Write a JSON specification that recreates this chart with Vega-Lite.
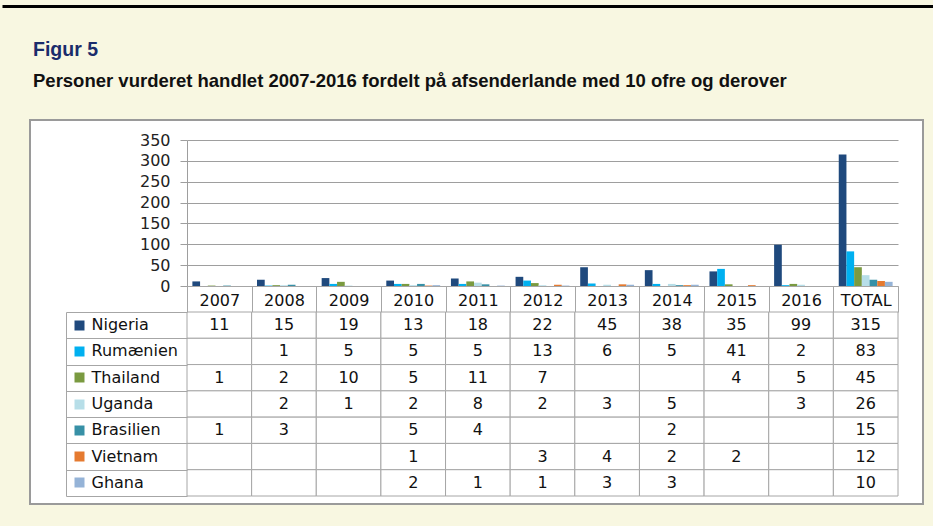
{
  "$schema": "https://vega.github.io/schema/vega-lite/v6.json",
  "width": 893,
  "height": 384,
  "autosize": {"type": "none"},
  "padding": {"left": 30, "top": 120, "right": 10, "bottom": 22},
  "background": "#F8F7E1",
  "config": {"view": {"fill": "white", "stroke": "#9A9A9A", "strokeWidth": 2}},
  "title": {
    "text": "Figur 5",
    "subtitle": "Personer vurderet handlet 2007-2016 fordelt på afsenderlande med 10 ofre og derover",
    "anchor": "start",
    "frame": "group",
    "orient": "top",
    "offset": -85.5,
    "dx": 3,
    "font": "Liberation Sans",
    "fontSize": 19.5,
    "fontWeight": "bold",
    "color": "#1B2C6B",
    "subtitleFont": "Liberation Sans",
    "subtitleFontSize": 18.5,
    "subtitleFontWeight": "bold",
    "subtitleColor": "#111111",
    "subtitlePadding": 12
  },
  "data": {
    "values": [
      {"year": "2007", "country": "Nigeria", "n": 11},
      {"year": "2008", "country": "Nigeria", "n": 15},
      {"year": "2009", "country": "Nigeria", "n": 19},
      {"year": "2010", "country": "Nigeria", "n": 13},
      {"year": "2011", "country": "Nigeria", "n": 18},
      {"year": "2012", "country": "Nigeria", "n": 22},
      {"year": "2013", "country": "Nigeria", "n": 45},
      {"year": "2014", "country": "Nigeria", "n": 38},
      {"year": "2015", "country": "Nigeria", "n": 35},
      {"year": "2016", "country": "Nigeria", "n": 99},
      {"year": "TOTAL", "country": "Nigeria", "n": 315},
      {"year": "2007", "country": "Rumænien", "n": null},
      {"year": "2008", "country": "Rumænien", "n": 1},
      {"year": "2009", "country": "Rumænien", "n": 5},
      {"year": "2010", "country": "Rumænien", "n": 5},
      {"year": "2011", "country": "Rumænien", "n": 5},
      {"year": "2012", "country": "Rumænien", "n": 13},
      {"year": "2013", "country": "Rumænien", "n": 6},
      {"year": "2014", "country": "Rumænien", "n": 5},
      {"year": "2015", "country": "Rumænien", "n": 41},
      {"year": "2016", "country": "Rumænien", "n": 2},
      {"year": "TOTAL", "country": "Rumænien", "n": 83},
      {"year": "2007", "country": "Thailand", "n": 1},
      {"year": "2008", "country": "Thailand", "n": 2},
      {"year": "2009", "country": "Thailand", "n": 10},
      {"year": "2010", "country": "Thailand", "n": 5},
      {"year": "2011", "country": "Thailand", "n": 11},
      {"year": "2012", "country": "Thailand", "n": 7},
      {"year": "2013", "country": "Thailand", "n": null},
      {"year": "2014", "country": "Thailand", "n": null},
      {"year": "2015", "country": "Thailand", "n": 4},
      {"year": "2016", "country": "Thailand", "n": 5},
      {"year": "TOTAL", "country": "Thailand", "n": 45},
      {"year": "2007", "country": "Uganda", "n": null},
      {"year": "2008", "country": "Uganda", "n": 2},
      {"year": "2009", "country": "Uganda", "n": 1},
      {"year": "2010", "country": "Uganda", "n": 2},
      {"year": "2011", "country": "Uganda", "n": 8},
      {"year": "2012", "country": "Uganda", "n": 2},
      {"year": "2013", "country": "Uganda", "n": 3},
      {"year": "2014", "country": "Uganda", "n": 5},
      {"year": "2015", "country": "Uganda", "n": null},
      {"year": "2016", "country": "Uganda", "n": 3},
      {"year": "TOTAL", "country": "Uganda", "n": 26},
      {"year": "2007", "country": "Brasilien", "n": 1},
      {"year": "2008", "country": "Brasilien", "n": 3},
      {"year": "2009", "country": "Brasilien", "n": null},
      {"year": "2010", "country": "Brasilien", "n": 5},
      {"year": "2011", "country": "Brasilien", "n": 4},
      {"year": "2012", "country": "Brasilien", "n": null},
      {"year": "2013", "country": "Brasilien", "n": null},
      {"year": "2014", "country": "Brasilien", "n": 2},
      {"year": "2015", "country": "Brasilien", "n": null},
      {"year": "2016", "country": "Brasilien", "n": null},
      {"year": "TOTAL", "country": "Brasilien", "n": 15},
      {"year": "2007", "country": "Vietnam", "n": null},
      {"year": "2008", "country": "Vietnam", "n": null},
      {"year": "2009", "country": "Vietnam", "n": null},
      {"year": "2010", "country": "Vietnam", "n": 1},
      {"year": "2011", "country": "Vietnam", "n": null},
      {"year": "2012", "country": "Vietnam", "n": 3},
      {"year": "2013", "country": "Vietnam", "n": 4},
      {"year": "2014", "country": "Vietnam", "n": 2},
      {"year": "2015", "country": "Vietnam", "n": 2},
      {"year": "2016", "country": "Vietnam", "n": null},
      {"year": "TOTAL", "country": "Vietnam", "n": 12},
      {"year": "2007", "country": "Ghana", "n": null},
      {"year": "2008", "country": "Ghana", "n": null},
      {"year": "2009", "country": "Ghana", "n": null},
      {"year": "2010", "country": "Ghana", "n": 2},
      {"year": "2011", "country": "Ghana", "n": 1},
      {"year": "2012", "country": "Ghana", "n": 1},
      {"year": "2013", "country": "Ghana", "n": 3},
      {"year": "2014", "country": "Ghana", "n": 3},
      {"year": "2015", "country": "Ghana", "n": null},
      {"year": "2016", "country": "Ghana", "n": null},
      {"year": "TOTAL", "country": "Ghana", "n": 10}
    ]
  },
  "resolve": {"scale": {"x": "independent", "y": "independent"}},
  "layer": [
    {
      "mark": {"type": "text", "text": "", "opacity": 0},
      "encoding": {
        "x": {
          "field": "year", "type": "nominal",
          "scale": {"domain": ["2007","2008","2009","2010","2011","2012","2013","2014","2015","2016","TOTAL"], "range": [-28, 903], "paddingInner": 0, "paddingOuter": 0},
          "axis": {"orient": "top", "offset": 114, "domain": true, "domainColor": "#000000", "domainWidth": 3, "ticks": false, "labels": false, "grid": false, "title": null}
        }
      }
    },
    {
      "mark": {"type": "rect", "fill": "white", "stroke": "#A6A6A6", "strokeWidth": 1},
      "encoding": {
        "x": {
          "field": "year", "type": "nominal",
          "scale": {"domain": ["2007","2008","2009","2010","2011","2012","2013","2014","2015","2016","TOTAL"], "range": [157, 868], "paddingInner": 0, "paddingOuter": 0},
          "axis": null
        },
        "y": {
          "field": "country", "type": "nominal",
          "scale": {"domain": ["Nigeria","Rumænien","Thailand","Uganda","Brasilien","Vietnam","Ghana"], "range": [192, 376], "paddingInner": 0, "paddingOuter": 0},
          "axis": {"orient": "left", "offset": -36, "tickBand": "extent", "tickSize": -121, "tickColor": "#A6A6A6", "domainColor": "#A6A6A6", "labels": false, "grid": false, "title": null}
        }
      }
    },
    {
      "mark": {"type": "bar"},
      "encoding": {
        "x": {
          "field": "year", "type": "nominal",
          "scale": {"domain": ["2007","2008","2009","2010","2011","2012","2013","2014","2015","2016","TOTAL"], "range": [157, 868], "paddingInner": 0, "paddingOuter": 0},
          "axis": {"orient": "bottom", "offset": -218, "tickBand": "extent", "tickSize": 26, "tickColor": "#A6A6A6", "domainColor": "#A6A6A6", "labelFont": "DejaVu Sans", "labelFontSize": 16, "labelColor": "#111111", "labelAngle": 0, "labelPadding": -12, "labelBaseline": "middle", "grid": false, "title": null}
        },
        "xOffset": {
          "field": "country", "type": "nominal",
          "scale": {"domain": ["Nigeria","Rumænien","Thailand","Uganda","Brasilien","Vietnam","Ghana"], "paddingInner": 0, "paddingOuter": 0.7}
        },
        "y": {
          "field": "n", "type": "quantitative",
          "scale": {"domain": [0, 350], "range": [166, 20], "nice": false, "zero": true},
          "axis": {"orient": "left", "offset": -157, "values": [0, 50, 100, 150, 200, 250, 300, 350], "grid": true, "gridColor": "#9E9E9E", "tickSize": 7, "tickColor": "#9E9E9E", "domainColor": "#9E9E9E", "labelFont": "DejaVu Sans", "labelFontSize": 16, "labelColor": "#222222", "labelPadding": 10, "title": null}
        },
        "color": {
          "field": "country", "type": "nominal",
          "scale": {"domain": ["Nigeria","Rumænien","Thailand","Uganda","Brasilien","Vietnam","Ghana"], "range": ["#1F497D","#00B0F0","#7A9A40","#B7DEE8","#3790A6","#E57A30","#95B3D7"]},
          "legend": null
        }
      }
    },
    {
      "transform": [{"filter": "datum.n != null"}],
      "mark": {"type": "text", "font": "DejaVu Sans", "fontSize": 16, "color": "#111111"},
      "encoding": {
        "x": {
          "field": "year", "type": "nominal",
          "scale": {"domain": ["2007","2008","2009","2010","2011","2012","2013","2014","2015","2016","TOTAL"], "range": [157, 868], "paddingInner": 0, "paddingOuter": 0},
          "axis": null
        },
        "y": {
          "field": "country", "type": "nominal",
          "scale": {"domain": ["Nigeria","Rumænien","Thailand","Uganda","Brasilien","Vietnam","Ghana"], "range": [192, 376], "paddingInner": 0, "paddingOuter": 0},
          "axis": {
            "orient": "right", "offset": -849, "tickBand": "center", "tickSize": 10, "tickWidth": 10, "tickCap": "butt",
            "tickColor": {
              "condition": [
                {"test": "datum.value === 'Nigeria'", "value": "#1F497D"},
                {"test": "datum.value === 'Rumænien'", "value": "#00B0F0"},
                {"test": "datum.value === 'Thailand'", "value": "#7A9A40"},
                {"test": "datum.value === 'Uganda'", "value": "#B7DEE8"},
                {"test": "datum.value === 'Brasilien'", "value": "#3790A6"},
                {"test": "datum.value === 'Vietnam'", "value": "#E57A30"}
              ],
              "value": "#95B3D7"
            },
            "tickOpacity": 1,
            "domain": false, "grid": false, "title": null,
            "labelFont": "DejaVu Sans", "labelFontSize": 16, "labelColor": "#111111", "labelPadding": 7
          }
        },
        "text": {"field": "n", "type": "quantitative"}
      }
    }
  ]
}
